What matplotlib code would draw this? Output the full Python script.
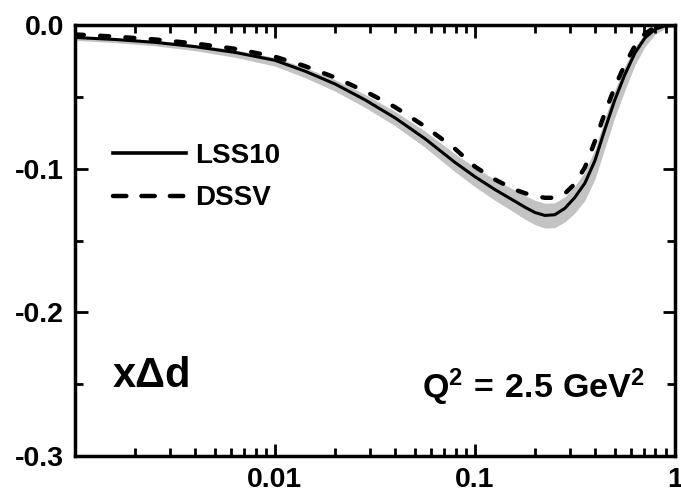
import matplotlib
matplotlib.use("Agg")
import matplotlib.pyplot as plt
from matplotlib.lines import Line2D
from matplotlib.ticker import FixedLocator, FixedFormatter, LogLocator, MultipleLocator, NullFormatter

# x Delta d(x) at Q^2 = 2.5 GeV^2: LSS10 central value with its error band, and DSSV
x = [0.001, 0.00158, 0.00251, 0.00398, 0.00631, 0.01, 0.0141, 0.02, 0.0282, 0.0398,
     0.0562, 0.0794, 0.1, 0.126, 0.158, 0.178, 0.2, 0.224, 0.251, 0.282, 0.316,
     0.355, 0.398, 0.447, 0.501, 0.562, 0.631, 0.708, 0.794, 0.891, 1.0]
lss10 = [-0.0086, -0.0100, -0.0120, -0.0150, -0.0190, -0.0245, -0.0320, -0.0410,
         -0.0520, -0.0645, -0.0790, -0.0955, -0.1055, -0.1145, -0.1225, -0.1268,
         -0.1305, -0.1325, -0.1320, -0.1275, -0.1200, -0.1100, -0.0945, -0.0725,
         -0.0520, -0.0345, -0.0195, -0.0090, -0.0030, -0.0005, 0.0]
lss10_hi = [-0.0076, -0.0088, -0.0106, -0.0134, -0.0172, -0.0225, -0.0295, -0.0380,
            -0.0482, -0.0600, -0.0737, -0.0895, -0.0990, -0.1075, -0.1147, -0.1186,
            -0.1220, -0.1240, -0.1237, -0.1195, -0.1120, -0.1020, -0.0865, -0.0647,
            -0.0450, -0.0285, -0.0150, -0.0060, -0.0012, 0.0003, 0.0]
lss10_lo = [-0.0106, -0.0122, -0.0144, -0.0178, -0.0224, -0.0285, -0.0365, -0.0460,
            -0.0573, -0.0700, -0.0850, -0.1020, -0.1125, -0.1220, -0.1305, -0.1351,
            -0.1390, -0.1413, -0.1410, -0.1370, -0.1308, -0.1220, -0.1073, -0.0855,
            -0.0642, -0.0455, -0.0280, -0.0150, -0.0065, -0.0025, -0.0010]
dssv = [-0.0065, -0.0080, -0.0100, -0.0128, -0.0165, -0.0220, -0.0285, -0.0365,
        -0.0460, -0.0570, -0.0705, -0.0860, -0.0985, -0.1075, -0.1145, -0.1170,
        -0.1190, -0.1202, -0.1202, -0.1172, -0.1105, -0.0990, -0.0810, -0.0610,
        -0.0430, -0.0275, -0.0145, -0.0060, -0.0015, 0.0, 0.0]

x_major = [0.01, 0.1, 1.0]
x_major_labels = ["0.01", "0.1", "1"]
y_major = [0.0, -0.1, -0.2, -0.3]
y_major_labels = ["0.0", "-0.1", "-0.2", "-0.3"]

plt.rcParams["font.family"] = ["Liberation Sans", "DejaVu Sans"]
plt.rcParams["font.weight"] = "bold"
plt.rcParams["axes.unicode_minus"] = False
plt.rcParams["mathtext.fontset"] = "custom"
plt.rcParams["mathtext.rm"] = "Liberation Sans:bold"
plt.rcParams["mathtext.bf"] = "Liberation Sans:bold"
plt.rcParams["mathtext.it"] = "Liberation Sans:bold"

fig = plt.figure(figsize=(6.81, 4.92), dpi=100)
ax = fig.add_axes([0.110, 0.073, 0.881, 0.876])

ax.fill_between(x, lss10_lo, lss10_hi, color="#c3c3c3", linewidth=0)
ax.plot(x, lss10, color="black", linewidth=2.2)
ax.plot(x, dssv, color="black", linewidth=3.2, dashes=(2.0, 3.7),
        dash_capstyle="round")

ax.set_xscale("log")
ax.set_xlim(0.001, 1.0)
ax.set_ylim(-0.3, 0.0)

ax.xaxis.set_major_locator(FixedLocator(x_major))
ax.xaxis.set_major_formatter(FixedFormatter(x_major_labels))
ax.xaxis.set_minor_locator(LogLocator(base=10, subs=range(2, 10), numticks=20))
ax.xaxis.set_minor_formatter(NullFormatter())
ax.yaxis.set_major_locator(FixedLocator(y_major))
ax.yaxis.set_major_formatter(FixedFormatter(y_major_labels))
ax.yaxis.set_minor_locator(MultipleLocator(0.05))

for side in ax.spines.values():
    side.set_linewidth(2.5)
ax.tick_params(which="both", direction="in", top=True, right=True, width=2.0,
               labelsize=20.5, pad=8)
ax.tick_params(which="major", length=9)
ax.tick_params(which="minor", length=5.5)
for lab in ax.get_xticklabels() + ax.get_yticklabels():
    lab.set_fontweight("bold")

handles = [
    Line2D([], [], color="black", linewidth=2.6),
    Line2D([], [], color="black", linewidth=3.2, dashes=(3.0, 3.4), dash_capstyle="round"),
]
ax.legend(handles, ["LSS10", "DSSV"], loc="upper left", bbox_to_anchor=(0.063, 0.727),
          frameon=False, borderpad=0, borderaxespad=0, handlelength=2.65,
          handletextpad=0.3, labelspacing=0.6,
          prop={"size": 20, "weight": "bold"})

ax.text(0.063, 0.160, "x\u0394d", transform=ax.transAxes, fontsize=30,
        fontweight="bold", va="baseline", ha="left")
ax.text(0.578, 0.135, r"$\mathbf{Q^2\,=\,2.5\ GeV^2}$", transform=ax.transAxes,
        fontsize=24.5, va="baseline", ha="left")

fig.savefig("out.png", dpi=100)
